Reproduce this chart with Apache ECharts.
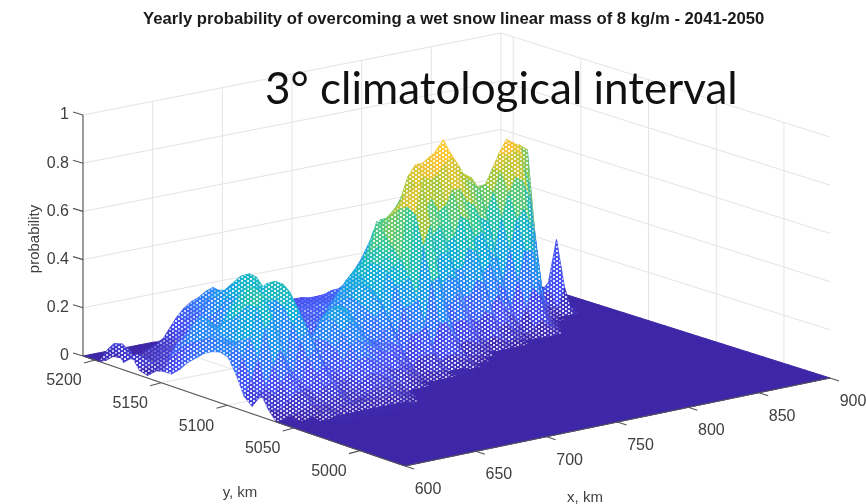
<!DOCTYPE html>
<html><head><meta charset="utf-8"><style>html,body{margin:0;padding:0;background:#fff}#c{width:866px;height:504px}</style>
<script src="https://cdn.jsdelivr.net/npm/echarts@6/dist/echarts.min.js"></script></head><body><div id="c"></div>
<script>
const xTicks=[600,650,700,750,800,850,900];
const yTicks=[5200,5150,5100,5050,5000];
const zTicks=[0,0.2,0.4,0.6,0.8,1];
const zLabels=['0','0.2','0.4','0.6','0.8','1'];
const xStart=600,xStep=5,yStart=5209,yStep=-6.075,xEnd=900,yEnd=4966;
// probability in percent; each row is one y value, x runs from 600 upward; trailing zeros omitted
const r00=[0,0,0,0,0,0,0,0,0,0,0,0,0,0,0,0,0,0,0,0,0,0,0,0,0,0,0,0,1,2,3,3,3,3,2,2,1];
const r01=[0,0,0,0,0,0,0,0,0,0,1,3,4,5,5,4,3,3,3,3,3,3,3,3,3,3,4,5,6,6,6,6,6,6,6,5,4,3,3,3,3,3,3,2,2,2,1,1,1];
const r02=[0,0,1,0,0,0,0,1,1,2,6,9,12,12,13,12,10,9,8,8,8,8,8,8,8,9,10,10,10,10,9,9,8,9,9,9,8,8,8,8,8,8,7,7,6,6,5,5,4,3,2,1];
const r03=[6,8,5,1,1,2,3,4,6,10,14,17,19,20,21,19,15,12,10,9,9,9,9,10,10,10,11,11,11,11,11,11,11,12,13,14,14,14,14,14,14,14,13,13,12,12,11,11,10,9,7,4,1];
const r04=[8,9,6,2,2,3,4,5,7,9,14,18,22,24,25,23,20,17,14,12,12,11,11,12,12,12,12,12,12,12,13,14,14,16,18,20,22,22,22,22,22,22,22,20,20,20,20,20,20,18,14,8,2];
const r05=[3,4,3,3,4,4,5,6,8,12,17,20,22,24,24,22,20,18,15,13,12,12,12,12,12,12,13,13,13,13,14,16,18,22,26,30,32,32,32,32,34,34,32,30,28,28,28,30,30,27,22,13,3];
const r06=[7,7,5,4,5,6,7,8,10,14,20,24,24,23,22,20,18,17,15,14,13,13,12,12,13,13,14,14,14,15,16,18,22,28,34,40,42,43,43,44,46,46,42,38,36,35,36,40,42,38,32,18,4];
const r07=[2,3,4,5,6,8,10,10,13,18,26,29,28,26,24,22,20,18,16,15,14,14,13,13,14,14,15,15,16,17,19,21,24,30,36,40,44,50,54,56,58,57,50,46,44,42,44,46,48,50,46,24,4];
const r08=[1,2,4,6,8,9,10,12,14,20,28,30,28,26,24,22,20,18,16,15,14,14,13,13,14,14,15,16,18,20,24,30,36,40,44,46,50,56,60,62,64,68,68,62,56,52,50,48,50,52,56,58,58,52,30,4];
const r09=[4,6,9,11,12,12,12,13,16,24,32,34,30,26,22,19,17,15,14,13,13,13,13,14,16,18,20,22,24,26,30,38,44,46,48,54,60,64,66,68,72,74,68,62,58,54,54,50,52,54,60,66,68,64,34,5];
const r10=[5,10,16,18,17,16,15,16,20,30,36,38,34,26,20,17,15,13,12,12,12,12,13,15,19,21,23,27,32,37,46,50,50,50,58,66,70,70,72,74,78,72,65,62,60,55,56,62,68,73,71,69,67,34,6,10];
const r11=[5,14,20,22,20,14,14,16,22,32,40,40,34,26,18,14,12,12,12,13,14,16,18,22,26,29,31,33,37,41,50,52,50,50,54,62,66,64,66,70,72,68,62,60,56,46,54,62,68,70,66,56,30,8,8,29,8];
const r12=[8,18,26,28,24,14,14,18,26,36,42,40,32,22,14,10,9,10,11,12,16,20,24,28,32,35,38,42,48,52,55,54,50,46,48,54,58,52,54,60,60,54,52,46,44,32,44,54,60,58,50,18,6,3,2,10];
const r13=[12,20,30,28,24,20,16,20,28,36,38,36,28,18,11,8,8,10,12,14,20,24,28,32,36,38,42,55,50,56,60,56,46,36,42,44,48,40,42,50,48,40,42,34,30,20,32,44,48,40,16,5,2];
const r14=[15,22,28,26,28,28,20,22,30,38,36,30,22,14,9,7,9,12,15,18,22,27,31,35,34,40,46,50,44,60,66,60,40,28,34,38,38,30,30,38,36,26,30,22,18,10,20,32,32,14,4,1];
const r15=[18,24,26,30,36,36,22,22,34,42,40,26,16,12,11,12,16,20,22,22,20,29,34,35,30,40,44,46,38,62,70,60,34,22,26,30,28,20,20,26,24,14,18,12,8,4,10,18,14,4,1];
const r16=[20,24,24,32,42,42,24,20,36,44,42,22,14,14,18,22,26,28,26,22,18,28,34,32,26,38,40,42,32,60,72,54,34,16,20,24,18,12,10,14,12,6,8,4,2,1,3,6,3,1];
const r17=[21,24,24,36,46,44,24,18,38,44,40,20,14,18,24,28,30,30,26,20,16,26,32,28,20,34,34,36,24,48,56,38,24,12,14,14,10,5,3,5,3,1,2,1];
const r18=[20,24,26,40,46,42,22,16,36,40,34,18,14,20,28,32,32,30,24,18,16,24,28,22,14,26,26,28,16,34,36,24,14,6,7,6,4,1];
const r19=[14,20,28,40,44,36,18,14,30,34,28,14,14,20,28,32,30,26,20,16,16,20,22,16,8,16,16,18,9,18,18,12,7,2,2,1];
const r20=[6,12,20,32,36,28,14,12,24,28,22,12,12,18,24,28,26,22,18,16,16,16,14,9,4,8,8,8,4,6,6,4,2];
const r21=[3,6,10,18,24,18,10,9,18,22,16,9,10,14,20,22,20,18,16,14,14,10,7,4,2,3,2,2,1,1,1];
const r22=[10,8,8,12,16,12,7,7,13,16,11,6,8,10,15,16,14,12,10,8,8,5,3,1];
const r23=[4,3,3,6,9,8,5,5,9,10,7,4,5,7,10,10,9,7,5,3];
const r24=[0,0,1,2,3,4,3,3,5,6,4,2,3,4,6,6,5,3,2,1];
const r25=[0,0,0,0,1,2,2,2,3,3,3,3,3,3,3,3,3,2,1];
const r26=[0,0,0,0,0,0,1,1,1,1,1,1,1,1,1,1,1];
const rows=[r00,r01,r02,r03,r04,r05,r06,r07,r08,r09,r10,r11,r12,r13,r14,r15,r16,r17,r18,r19,r20,r21,r22,r23,r24,r25,r26];
const parula=[[62,38,168],[72,82,244],[46,135,247],[18,177,214],[55,200,151],[171,199,57],[254,195,56],[252,220,40],[249,251,21]];
const NX=60,NY=40;
const L=[83,356],B=[501,274],F=[405,466],R=[830,378],Zpx=241;
function H(i,j){const r=rows[j];return r&&r[i]!==undefined?r[i]/100:0;}
function proj(x,y,z){const u=(x-xStart)/(xEnd-xStart),v=(yStart-y)/(yStart-yEnd);
 const a=(1-u)*(1-v),b=u*(1-v),c=(1-u)*v,d=u*v;
 return [a*L[0]+b*B[0]+c*F[0]+d*R[0],a*L[1]+b*B[1]+c*F[1]+d*R[1]-Zpx*z];}
function col(t){t=Math.max(0,Math.min(1,t))*(parula.length-1);const k=Math.min(parula.length-2,Math.floor(t)),f=t-k;
 return parula[k].map((c,n)=>c+(parula[k+1][n]-c)*f);}
const css=c=>'rgb('+c.map(Math.round).join(',')+')';
// wire-mesh look: tile with pale holes; foreshortened cells get smaller, fainter holes like a compressed mesh
const tiles={};const holeAlpha=[0.28,0.52,0.72,0.86];
function meshTile(t,lv){const q=Math.round(t*50),key=q+'_'+lv;if(tiles[key])return tiles[key];
 const cv=document.createElement('canvas');cv.width=6;cv.height=4;const x=cv.getContext('2d');
 x.fillStyle=css(col(q/50));x.fillRect(0,0,6,4);
 x.fillStyle='rgba(255,255,255,'+holeAlpha[lv]+')';x.fillRect(1,0,2,2);x.fillRect(4,2,2,2);
 tiles[key]={image:cv,repeat:'repeat'};return tiles[key];}
function polyArea(p){let s=0;for(let k=0;k<4;k++){const a=p[k],b=p[(k+1)%4];s+=a[0]*b[1]-b[0]*a[1];}return Math.abs(s)/2;}
// wall and floor grid lines
const gridData=[];
xTicks.forEach(x=>{gridData.push([x,yStart,0,x,yStart,1]);gridData.push([x,yStart,0,x,yEnd,0]);});
yTicks.forEach(y=>{gridData.push([xEnd,y,0,xEnd,y,1]);gridData.push([xStart,y,0,xEnd,y,0]);});
zTicks.forEach(z=>{gridData.push([xStart,yStart,z,xEnd,yStart,z]);gridData.push([xEnd,yStart,z,xEnd,yEnd,z]);});
// surface cells back to front
const cellData=[];
for(let j=0;j<NY;j++)for(let i=NX-1;i>=0;i--)cellData.push([i,j]);
// axis lines and ticks
const axisData=[[xStart,yEnd,0,xEnd,yEnd,0,0,0],[xStart,yStart,0,xStart,yEnd,0,0,0],[xStart,yStart,0,xStart,yStart,1,0,0]];
xTicks.forEach(x=>axisData.push([x,yEnd,0,x,yEnd,0,9,3]));
yTicks.forEach(y=>axisData.push([xStart,y,0,xStart,y,0,-11,3]));
zTicks.forEach(z=>axisData.push([xStart,yStart,z,xStart,yStart,z,-10,-3]));
const labelData=[];
xTicks.forEach(x=>labelData.push([x,yEnd,0,23,23.5,String(x),'center']));
yTicks.forEach(y=>labelData.push([xStart,y,0,-31,21,String(y),'center']));
zTicks.forEach((z,n)=>labelData.push([xStart,yStart,z,-14,0,zLabels[n],'right']));
const textColor='#404040';
const chart=echarts.init(document.getElementById('c'),null,{renderer:'canvas'});
chart.setOption({animation:false,backgroundColor:'#fff',
 grid:{left:0,right:0,top:0,bottom:0},
 xAxis:{type:'value',min:0,max:866,show:false},
 yAxis:{type:'value',min:0,max:504,inverse:true,show:false},
 series:[
 {type:'custom',silent:true,clip:false,z:1,progressive:0,data:gridData,
  renderItem(p,api){const a=proj(api.value(0),api.value(1),api.value(2)),b=proj(api.value(3),api.value(4),api.value(5));
   const A=api.coord(a),Bb=api.coord(b);
   return {type:'line',shape:{x1:A[0],y1:A[1],x2:Bb[0],y2:Bb[1]},style:{stroke:'#e4e4e4',lineWidth:1}};}},
 {type:'custom',silent:true,clip:false,z:2,progressive:0,data:cellData,
  renderItem(p,api){const i=api.value(0),j=api.value(1);
   const g=[[i,j],[i+1,j],[i+1,j+1],[i,j+1]];
   let m=0,mx=0;const pts=g.map(q=>{const h=H(q[0],q[1]);m+=h/4;mx=Math.max(mx,h);
     return api.coord(proj(xStart+q[0]*xStep,yStart+q[1]*yStep,h));});
   const t=Math.min(1,m*1.06);const c=col(t);const solid=mx<0.015;
   const ar=polyArea(pts);const lv=ar<34?0:ar<60?1:ar<110?2:3;
   return {type:'polygon',shape:{points:pts},style:{fill:solid?css(c):meshTile(t,lv),stroke:css(c),lineWidth:solid?1:0.45}};}},
 {type:'custom',silent:true,clip:false,z:3,progressive:0,data:axisData,
  renderItem(p,api){const a=proj(api.value(0),api.value(1),api.value(2)),b=proj(api.value(3),api.value(4),api.value(5));
   const A=api.coord(a),Bb=api.coord([b[0]+api.value(6),b[1]+api.value(7)]);
   return {type:'line',shape:{x1:A[0],y1:A[1],x2:Bb[0],y2:Bb[1]},style:{stroke:'#555',lineWidth:1.1}};}},
 {type:'custom',silent:true,clip:false,z:4,progressive:0,data:labelData,
  dimensions:['a','b','c','d','e',{name:'t',type:'ordinal'},{name:'al',type:'ordinal'}],
  renderItem(p,api){const n=p.dataIndex,d=labelData[n];const a=proj(d[0],d[1],d[2]);const A=api.coord([a[0]+d[3],a[1]+d[4]]);
   return {type:'text',x:A[0],y:A[1],style:{text:d[5],fill:textColor,font:'16px "Liberation Sans"',textAlign:d[6],textVerticalAlign:'middle'}};}}
 ],
 graphic:[
  {type:'text',left:143,top:11,z:10,style:{text:'Yearly probability of overcoming a wet snow linear mass of 8 kg/m - 2041-2050',fill:'#1a1a1a',font:'bold 16.7px "Liberation Sans"'}},
  {type:'text',left:265,top:68,z:10,style:{text:'3° climatological interval',fill:'#111',font:'44px Lato'}},
  {type:'text',x:35,y:239,rotation:Math.PI/2,z:10,style:{text:'probability',fill:textColor,font:'15px "Liberation Sans"',textAlign:'center',textVerticalAlign:'middle'}},
  {type:'text',x:240,y:493,z:10,style:{text:'y, km',fill:textColor,font:'15px "Liberation Sans"',textAlign:'center',textVerticalAlign:'middle'}},
  {type:'text',x:585,y:498,z:10,style:{text:'x, km',fill:textColor,font:'15px "Liberation Sans"',textAlign:'center',textVerticalAlign:'middle'}}
 ]});
</script></body></html>
